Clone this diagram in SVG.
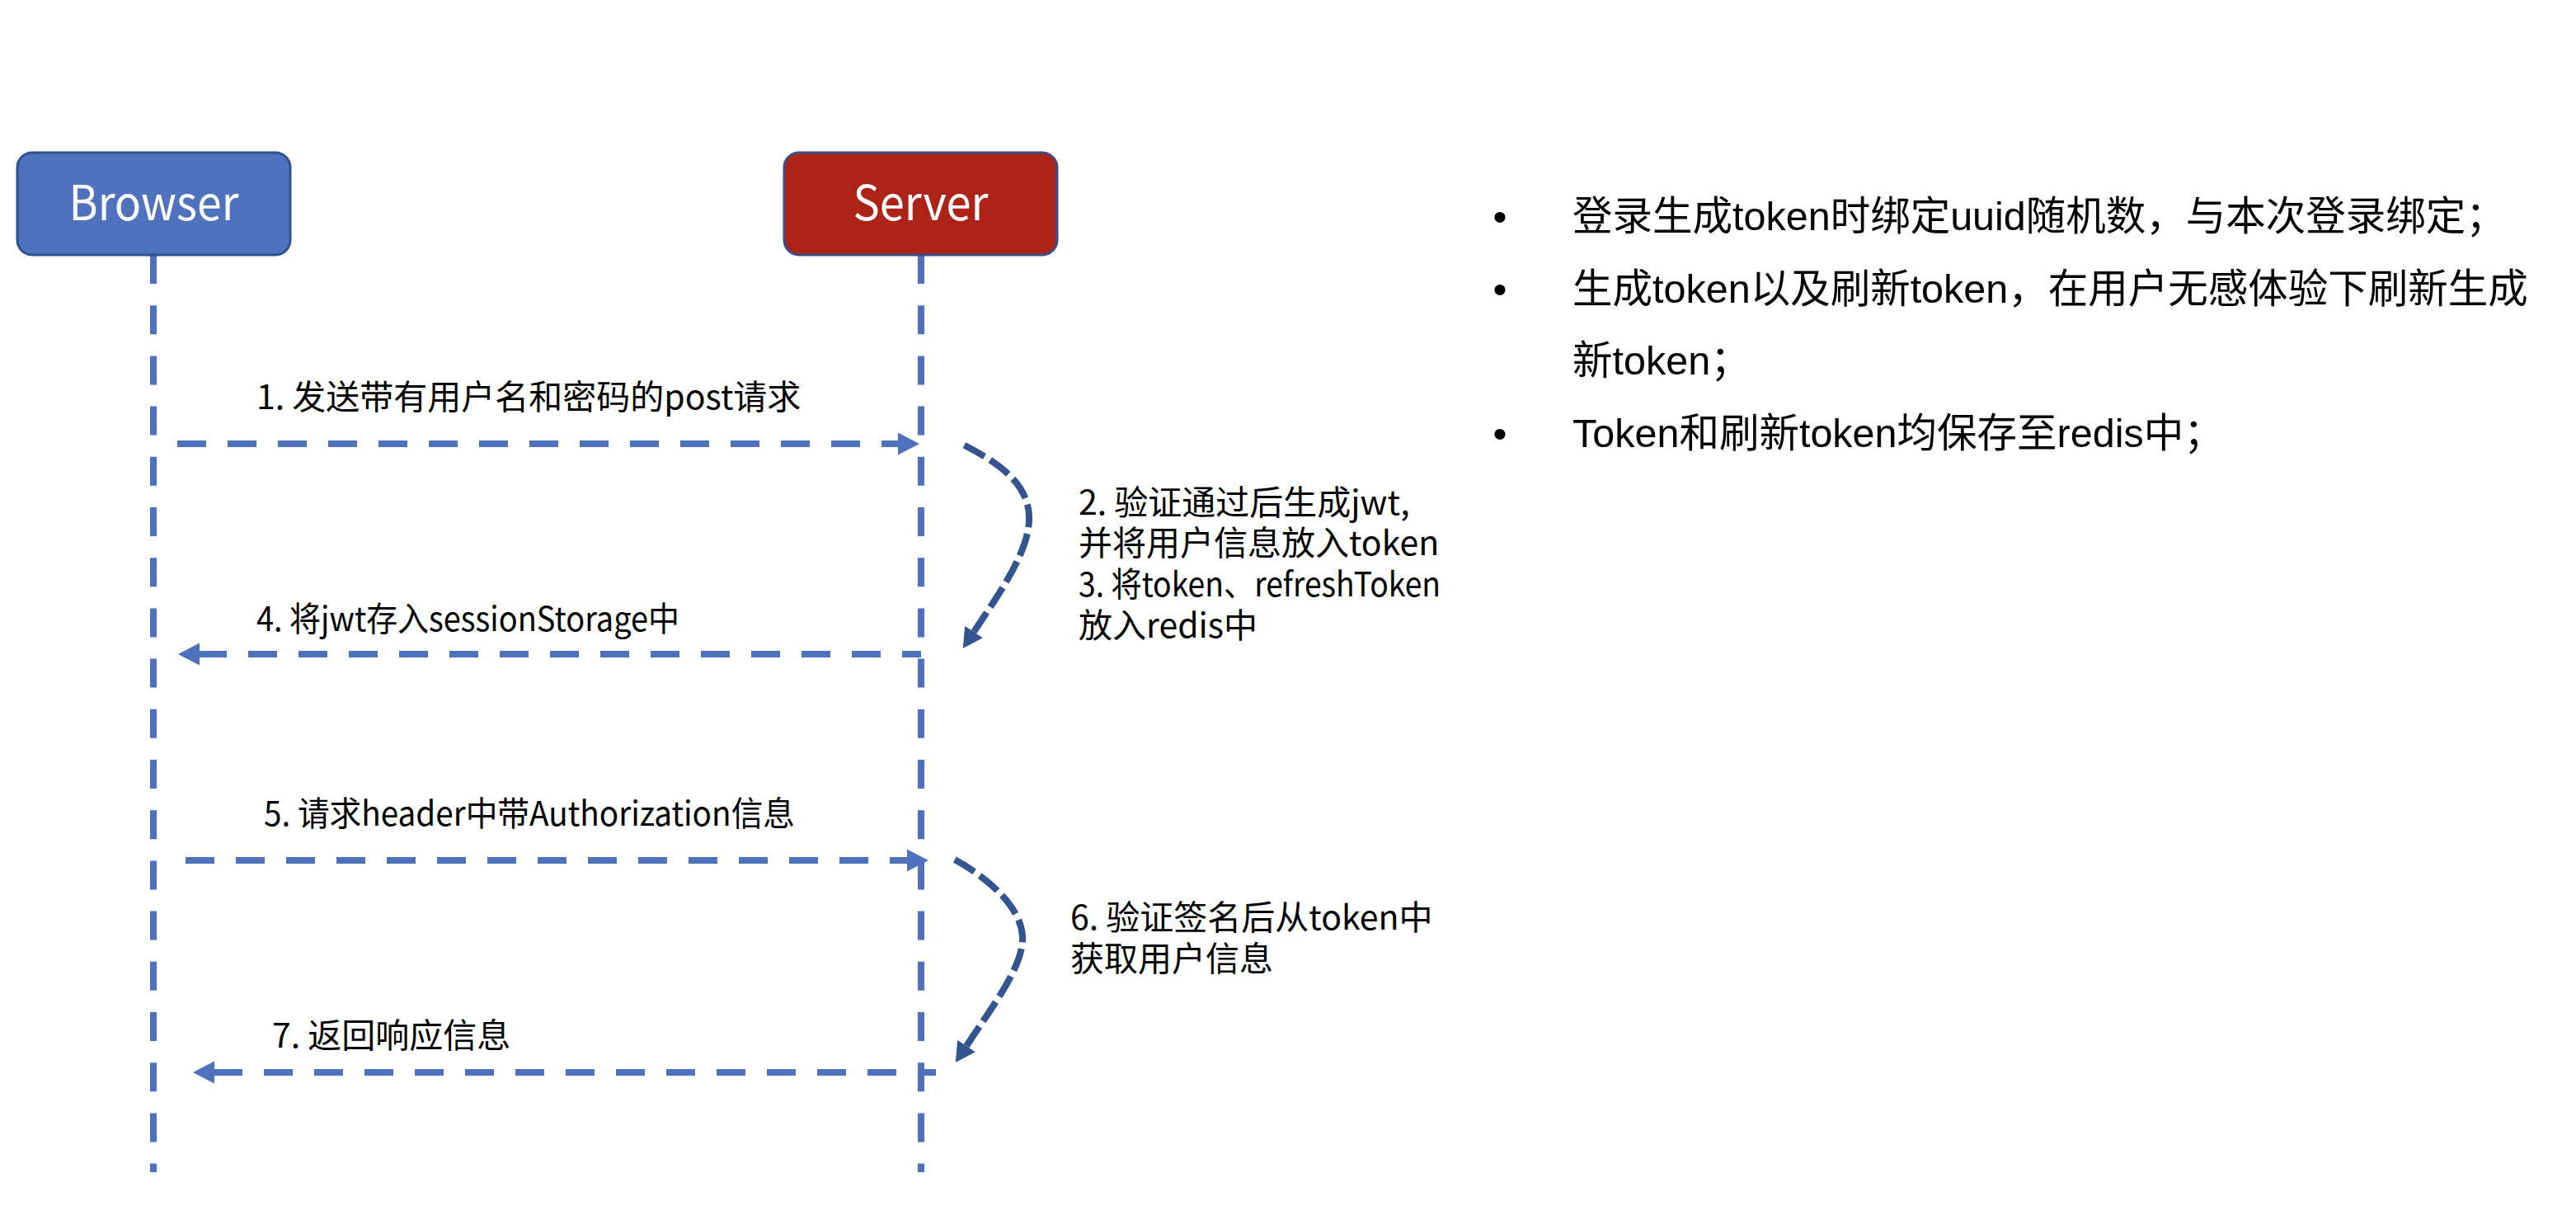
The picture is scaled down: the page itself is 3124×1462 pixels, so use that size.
<svg xmlns="http://www.w3.org/2000/svg" width="3124" height="1462" viewBox="0 0 3124 1462">
  <style>
    .box-b { fill: #4F72BE; stroke: #2F528F; stroke-width: 3; }
    .box-s { fill: #AE2318; stroke: #3B4F86; stroke-width: 3; }
    .box-t { font-family: "Noto Sans CJK SC", "Open Sans", sans-serif; font-size: 58px; fill: #FFFFFF; text-anchor: middle; }
    .life { stroke: #4E71BE; stroke-width: 8; stroke-dasharray: 35 26.2; fill: none; }
    .msg { stroke: #4E71BE; stroke-width: 8; stroke-dasharray: 35 26; fill: none; }
    .self { stroke: #34548F; stroke-width: 8; stroke-dasharray: 28 8; fill: none; }
    .lbl { font-family: "Noto Sans CJK SC", sans-serif; font-size: 41px; fill: #000000; }
    .note { font-family: "Liberation Sans", "Noto Sans CJK SC", sans-serif; font-size: 48.5px; fill: #000000; }
  </style>
  <defs>
    <marker id="ah" markerUnits="userSpaceOnUse" viewBox="0 -15 27 30" markerWidth="27" markerHeight="30" refX="0" refY="0" orient="auto">
      <path d="M0,-13.5 L26,0 L0,13.5 z" fill="#4E71BE"/>
    </marker>
    <marker id="ahd" markerUnits="userSpaceOnUse" viewBox="0 -15 27 30" markerWidth="27" markerHeight="30" refX="0" refY="0" orient="auto-start-reverse">
      <path d="M0,-13 L24,0 L0,13 z" fill="#34548F"/>
    </marker>
  </defs>
  <rect width="3124" height="1462" fill="#FFFFFF"/>

  <g id="lifelines">
    <line class="life" x1="186" y1="309" x2="186" y2="1421"/>
    <line class="life" x1="1117" y1="309" x2="1117" y2="1421"/>
  </g>

  <g id="browser">
    <rect class="box-b" x="21" y="185" width="331" height="124" rx="18" ry="18"/>
    <text class="box-t" x="186.5" y="267" textLength="206" lengthAdjust="spacingAndGlyphs" font-size="60">Browser</text>
  </g>

  <g id="server">
    <rect class="box-s" x="951" y="185" width="331" height="124" rx="18" ry="18"/>
    <text class="box-t" x="1116.5" y="267" textLength="164" lengthAdjust="spacingAndGlyphs" font-size="60">Server</text>
  </g>

  <g id="connectors">
    <path class="msg" d="M215,538 H1089" marker-end="url(#ah)"/>
    <path class="self" d="M1181,766 C1215,715 1250,665 1248,625 C1246,585 1210,560 1166,538" marker-start="url(#ahd)"/>
    <path class="msg" d="M1117,793 H242" stroke-dashoffset="12" marker-end="url(#ah)"/>
    <path class="msg" d="M225,1043 H1100" marker-end="url(#ah)"/>
    <path class="self" d="M1172,1268 C1205,1218 1242,1170 1240,1135 C1238,1100 1200,1065 1156,1041" marker-start="url(#ahd)"/>
    <path class="msg" d="M1135,1300 H260" stroke-dashoffset="13" marker-end="url(#ah)"/>
  </g>

  <g id="labels">
    <text class="lbl" x="311" y="496">1. 发送带有用户名和密码的post请求</text>
    <text class="lbl">
      <tspan x="1308" y="624">2. 验证通过后生成jwt,</tspan>
      <tspan x="1308" y="673">并将用户信息放入token</tspan>
      <tspan x="1308" y="723" textLength="439" lengthAdjust="spacingAndGlyphs">3. 将token、refreshToken</tspan>
      <tspan x="1308" y="773">放入redis中</tspan>
    </text>
    <text class="lbl" x="311" y="765" textLength="513" lengthAdjust="spacingAndGlyphs">4. 将jwt存入sessionStorage中</text>
    <text class="lbl" x="320" y="1001" textLength="644" lengthAdjust="spacingAndGlyphs">5. 请求header中带Authorization信息</text>
    <text class="lbl">
      <tspan x="1298" y="1127">6. 验证签名后从token中</tspan>
      <tspan x="1298" y="1177">获取用户信息</tspan>
    </text>
    <text class="lbl" x="330" y="1270">7. 返回响应信息</text>
  </g>

  <g id="notes">
    <text class="note" x="1819" y="279" text-anchor="middle">•</text>
    <text class="note" x="1907" y="279">登录生成token时绑定uuid随机数，与本次登录绑定；</text>
    <text class="note" x="1819" y="367" text-anchor="middle">•</text>
    <text class="note">
      <tspan x="1907" y="367">生成token以及刷新token，在用户无感体验下刷新生成</tspan>
      <tspan x="1907" y="454">新token；</tspan>
    </text>
    <text class="note" x="1819" y="542" text-anchor="middle">•</text>
    <text class="note" x="1907" y="542">Token和刷新token均保存至redis中；</text>
  </g>
</svg>
